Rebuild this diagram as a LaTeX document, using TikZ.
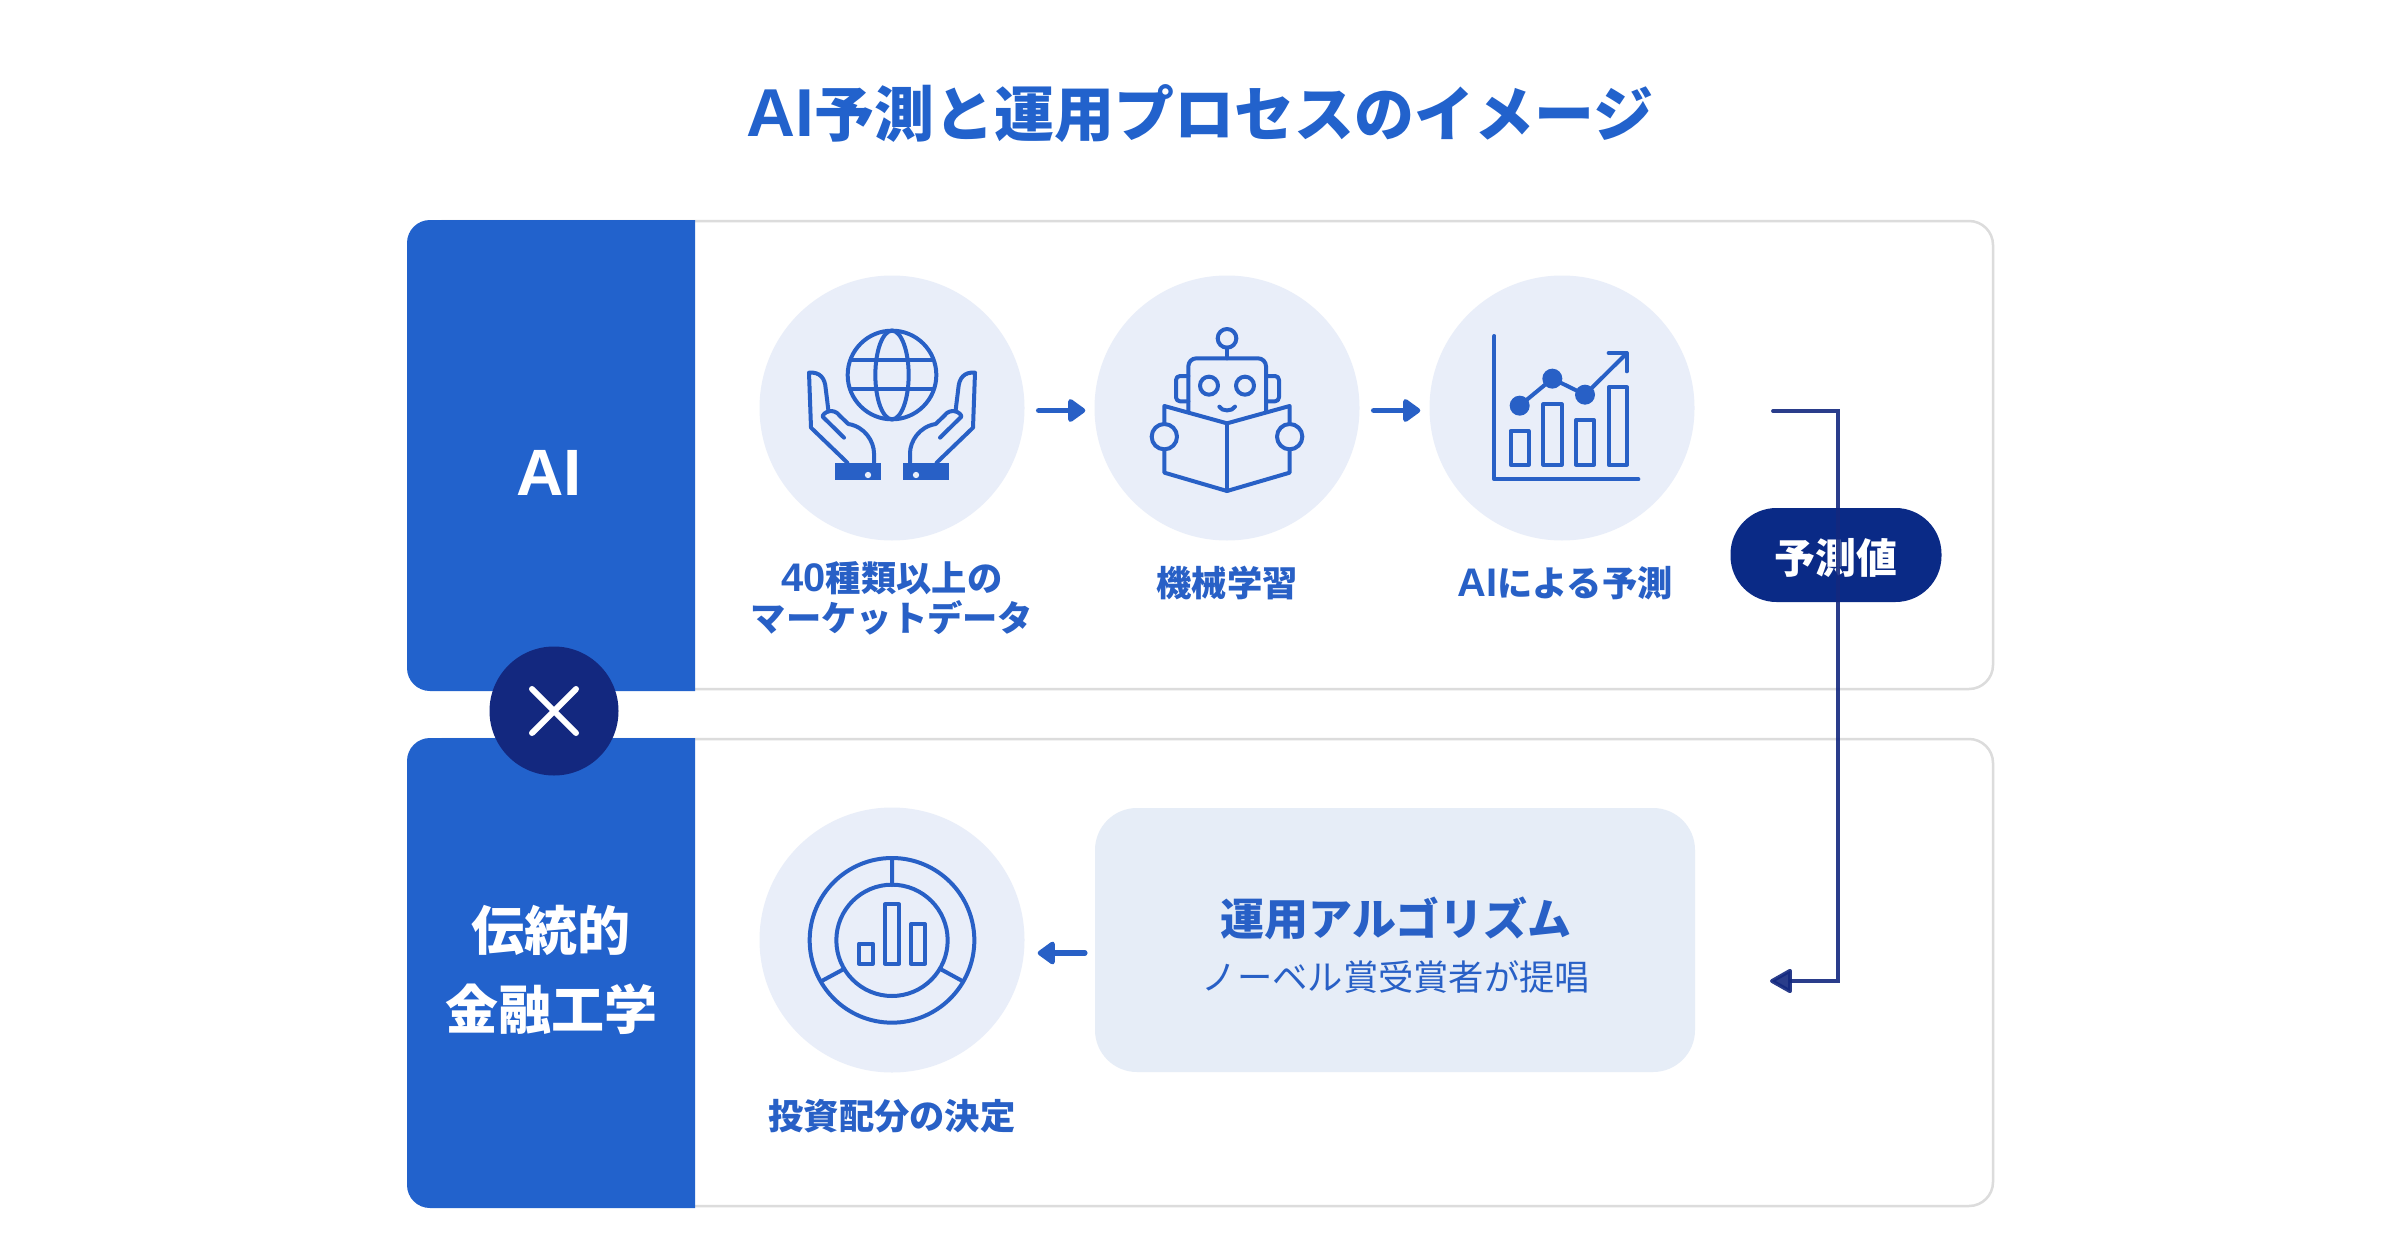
\documentclass[tikz,border=0pt]{standalone}
\usepackage{fontspec}
\setmainfont{Noto Sans CJK JP}
\newfontfamily\latinf[Scale=1.13]{Liberation Sans}
\usetikzlibrary{arrows.meta}
\definecolor{panelblue}{HTML}{2262CC}
\definecolor{iconblue}{HTML}{2860C6}
\definecolor{circbg}{HTML}{E9EEF9}
\definecolor{algbg}{HTML}{E6EDF7}
\definecolor{navy}{HTML}{0A2A86}
\definecolor{navyline}{HTML}{13287F}
\definecolor{cardline}{HTML}{DCDCDC}
\newcommand{\fsz}[1]{\fontsize{#1pt}{#1pt}\selectfont}
\newcommand{\lat}[1]{{\latinf #1}}
\tikzset{
  card/.style={draw=cardline,line width=2.5pt,fill=white,rounded corners=24pt},
  circlebg/.style={circle,fill=circbg,minimum size=265pt,inner sep=0pt},
  ico/.style={draw=iconblue,line width=4pt,line join=round,line cap=round},
  icofill/.style={fill=iconblue},
  steplabel/.style={text=iconblue,font=\bfseries\fsz{35.3},align=center,inner sep=0pt},
  paneltext/.style={text=white,font=\bfseries\fsz{53},inner sep=0pt},
  flow/.style={draw=iconblue,line width=5.5pt,line cap=round,-{Triangle[length=19pt,width=26pt,round]}},
  back/.style={draw=navyline,line width=3.8pt,line cap=round},
}
\newcommand{\handicon}{%
  \draw[ico] (322,608) -- (213,503) -- (207,338) .. controls (240,335) and (255,355) .. (257,385) -- (265,450);
  \draw[ico] (312,533) -- (248,470) .. controls (248,458) and (280,440) .. (300,468) -- (325,492) .. controls (375,500) and (402,545) .. (402,580) -- (402,608);
  \fill[icofill] (285,610) rectangle (424,660);
  \fill[circbg] (384,645) circle (9.5);
}
\begin{document}
\begin{tikzpicture}[x=1pt,y=-1pt]
\useasboundingbox (0,0) rectangle (2400,1260);
\fill[white] (0,0) rectangle (2400,1260);
\node[text=panelblue,font=\bfseries\fsz{60},inner sep=0pt] (title) at (1200,114) {\lat{AI}予測と運用プロセスのイメージ};
% cards
\draw[card] (420,221) rectangle (1993,689);
\draw[card] (420,739) rectangle (1993,1206);
\fill[panelblue] (695,220) -- (430,220) arc[start angle=270,end angle=180,radius=23] -- (407,668) arc[start angle=180,end angle=90,radius=23] -- (695,691) -- cycle;
\fill[panelblue] (695,738) -- (430,738) arc[start angle=270,end angle=180,radius=23] -- (407,1185) arc[start angle=180,end angle=90,radius=23] -- (695,1208) -- cycle;
\node[paneltext,font=\bfseries\fsz{58}] (ai) at (549,473) {\lat{AI}};
\node[paneltext] (trad1) at (551,930) {伝統的};
\node[paneltext] (trad2) at (551,1009) {金融工学};
% cross
\node[circle,fill=navyline,minimum size=129pt,inner sep=0pt] (cross) at (554,711) {};
\draw[white,line width=6pt,line cap=round] (532,689) -- (576,733) (576,689) -- (532,733);
% circles
\node[circlebg] (c1) at (892,408) {};
\node[circlebg] (c2) at (1227,408) {};
\node[circlebg] (c3) at (1562,408) {};
\node[circlebg] (c4) at (892,940) {};
\node[fill=algbg,rounded corners=42pt,minimum width=600pt,minimum height=264pt,inner sep=0pt] (alg) at (1395,940) {};
% labels
\node[steplabel] (l1a) at (892,578) {\lat{40}種類以上の};
\node[steplabel] (l1b) at (892,618) {マーケットデータ};
\node[steplabel] (l2) at (1227,583) {機械学習};
\node[steplabel] (l3) at (1565,583) {\lat{AI}による予測};
\node[steplabel] (l4) at (892,1116) {投資配分の決定};
\node[text=iconblue,font=\bfseries\fsz{44},inner sep=0pt] (algt) at (1396,918) {運用アルゴリズム};
\node[text=iconblue,font=\fsz{35.3},inner sep=0pt] (algs) at (1396,977) {ノーベル賞受賞者が提唱};
% arrows
\draw[flow,shorten <=14pt,shorten >=9pt] ([yshift=-2.5pt]c1.east) -- ([yshift=-2.5pt]c2.west);
\draw[flow,shorten <=14pt,shorten >=9pt] ([yshift=-2.5pt]c2.east) -- ([yshift=-2.5pt]c3.west);
\draw[flow,shorten <=10pt,shorten >=13pt] ([yshift=-13pt]alg.west) -- ([yshift=-13pt]c4.east);
% pill and connector
\node[fill=navy,rounded corners=46pt,minimum width=211pt,minimum height=94pt,inner sep=0pt] (pill) at (1836,555) {};
\node[text=white,font=\bfseries\fsz{41},inner sep=0pt] (pilltext) at (1836,558) {予測値};
\coordinate (ps) at (1773,411);
\coordinate (pc1) at (1838,411);
\coordinate (pc2) at (1838,981);
\coordinate (pe) at (1770,981);
\draw[back,opacity=.9,line join=miter,-{Triangle[length=24pt,width=26pt,round]}] (ps) -- (pc1) -- (pc2) -- (pe);
% icon 1
\begin{scope}[shift={(740,260)},x=0.33333pt,y=-0.33333pt]
  \draw[ico] (456,345) circle (133);
  \draw[ico] (456,345) ellipse (50 and 133);
  \draw[ico] (335,300) -- (577,300) (335,388) -- (577,388);
  \handicon
  \begin{scope}[shift={(912,0)},xscale=-1]
    \handicon
  \end{scope}
\end{scope}
% icon 2
\begin{scope}[shift={(1080,260)},x=0.33333pt,y=-0.33333pt]
  \draw[ico] (441,235) circle (28);
  \draw[ico] (441,263) -- (441,295);
  \draw[ico,rounded corners=8pt] (325,455) -- (325,295) -- (558,295) -- (558,455);
  \draw[ico] (387,377) circle (27) (495,377) circle (27);
  \draw[ico] (418,440) .. controls (425,455) and (457,455) .. (465,440);
  \draw[ico,rounded corners=4pt] (325,348) -- (288,348) -- (288,424) -- (325,424);
  \draw[ico,rounded corners=4pt] (558,348) -- (597,348) -- (597,424) -- (558,424);
  \draw[ico] (253,492) -- (253,438) -- (441,490) -- (629,438) -- (629,492);
  \draw[ico] (629,570) -- (629,638) -- (441,693) -- (253,638) -- (253,570);
  \draw[ico] (441,490) -- (441,693);
  \draw[ico] (253,530) circle (38) (629,530) circle (38);
\end{scope}
% icon 3
\begin{scope}[shift={(1420,260)},x=0.33333pt,y=-0.33333pt]
  \draw[ico] (223,228) -- (223,658) -- (655,658);
  \draw[ico] (272,513) rectangle (326,614) (370,433) rectangle (425,614) (468,480) rectangle (522,614) (566,382) rectangle (621,614);
  \draw[ico] (299,437) -- (397,356) -- (495,404) -- (620,280);
  \draw[ico] (566,279) -- (620,279) -- (620,334);
  \fill[icofill] (299,437) circle (30) (397,356) circle (30) (495,404) circle (30);
\end{scope}
% icon 4
\begin{scope}[shift={(740,800)},x=0.33333pt,y=-0.33333pt]
  \draw[ico] (456,421) circle (247) (456,421) circle (167);
  \draw[ico] (456,175) -- (456,255) (245,543) -- (310,508) (667,543) -- (603,508);
  \draw[ico] (357,431) rectangle (398,491) (435,313) rectangle (477,491) (513,372) rectangle (555,491);
\end{scope}
\end{tikzpicture}
\end{document}
